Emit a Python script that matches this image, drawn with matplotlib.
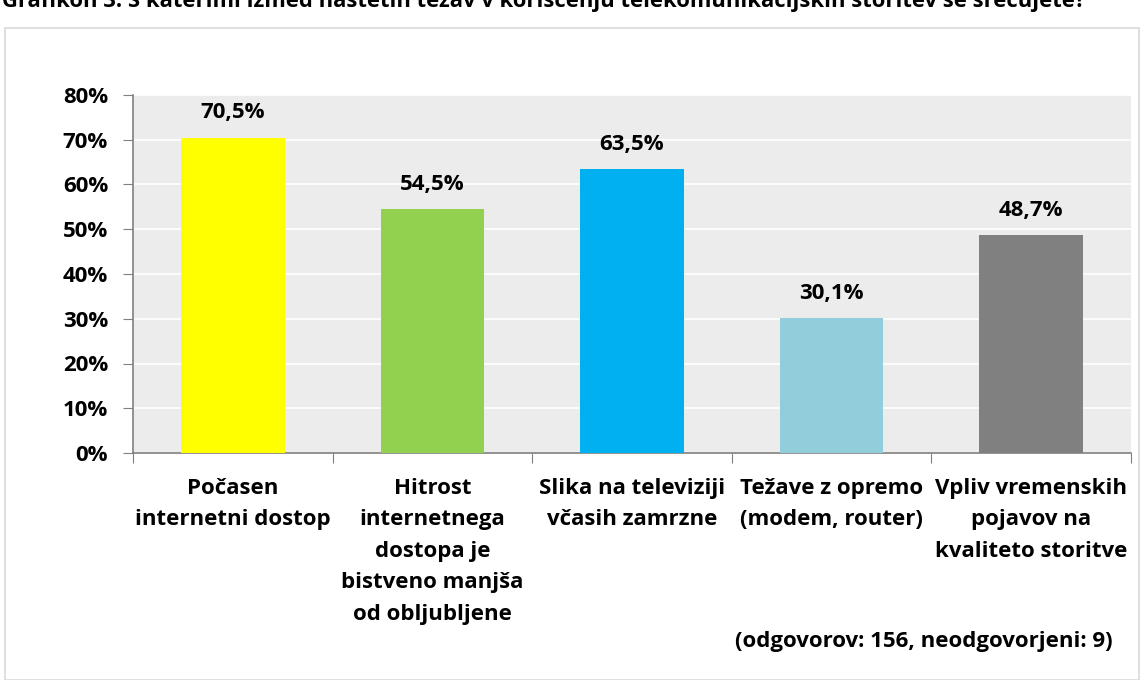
import matplotlib
matplotlib.use("Agg")
import matplotlib.pyplot as plt
from matplotlib.patches import Rectangle
from matplotlib.ticker import MultipleLocator

categories = ["Počasen\ninternetni dostop",
              "Hitrost\ninternetnega\ndostopa je\nbistveno manjša\nod obljubljene",
              "Slika na televiziji\nvčasih zamrzne",
              "Težave z opremo\n(modem, router)",
              "Vpliv vremenskih\npojavov na\nkvaliteto storitve"]
values = [70.5, 54.5, 63.5, 30.1, 48.7]
colors = ["#FFFF00", "#92D050", "#00B0F0", "#92CDDC", "#808080"]
title = "Grafikon 3: S katerimi izmed naštetih težav v koriščenju telekomunikacijskih storitev se srečujete?"
note = "(odgovorov: 156, neodgovorjeni: 9)"

plt.rcParams['font.family'] = ['Open Sans', 'DejaVu Sans']
plt.rcParams['font.weight'] = 'bold'
FS = 16

fig = plt.figure(figsize=(11.44, 6.8), dpi=100)
fig.patch.set_facecolor('white')
W, H = 1144, 680

# outer frame
fig.patches.append(Rectangle((5 / W, 0), 1134 / W, (680 - 28) / H, transform=fig.transFigure,
                             fill=False, edgecolor='#d9d9d9', linewidth=1.2))
fig.text(2 / W, 1 - 1 / H, title, ha='left', va='center', fontsize=15.8, fontweight='bold')

ax = fig.add_axes([133 / W, 1 - 453 / H, (1131 - 133) / W, (453 - 95) / H])
ax.set_facecolor('#ececec')
x = list(range(len(categories)))
ax.bar(x, values, width=0.52, color=colors, zorder=3)
ax.set_xlim(-0.5, len(categories) - 0.5)
ax.set_ylim(0, 80)
ax.yaxis.set_major_locator(MultipleLocator(10))
ax.grid(axis='y', color='white', linewidth=1.2, zorder=1)
for s in ['top', 'right']:
    ax.spines[s].set_visible(False)
for s in ['left', 'bottom']:
    ax.spines[s].set_color('#808080')
    ax.spines[s].set_linewidth(1.2)
ax.tick_params(axis='y', direction='out', length=7, color='#808080', pad=11)
ax.set_yticks(range(0, 81, 10))
ax.set_yticklabels([f"{v}%" for v in range(0, 81, 10)], fontweight='bold', fontsize=FS)
ax.set_xticks([i + 0.5 for i in range(-1, len(categories))])
ax.set_xticklabels([])
ax.tick_params(axis='x', direction='out', length=7, color='#808080')
for i, c in enumerate(categories):
    ax.text(i, -5.6, c, ha='center', va='top', fontsize=FS, fontweight='bold',
            linespacing=1.65)
for i, v in enumerate(values):
    ax.text(i, v + 3.2, f"{v:.1f}".replace('.', ',') + "%", ha='center', va='bottom',
            fontsize=FS, fontweight='bold')

fig.text(1113 / W, 1 - 641 / H, note, ha='right', va='center', fontsize=FS, fontweight='bold')

fig.savefig("out.png", dpi=100)
